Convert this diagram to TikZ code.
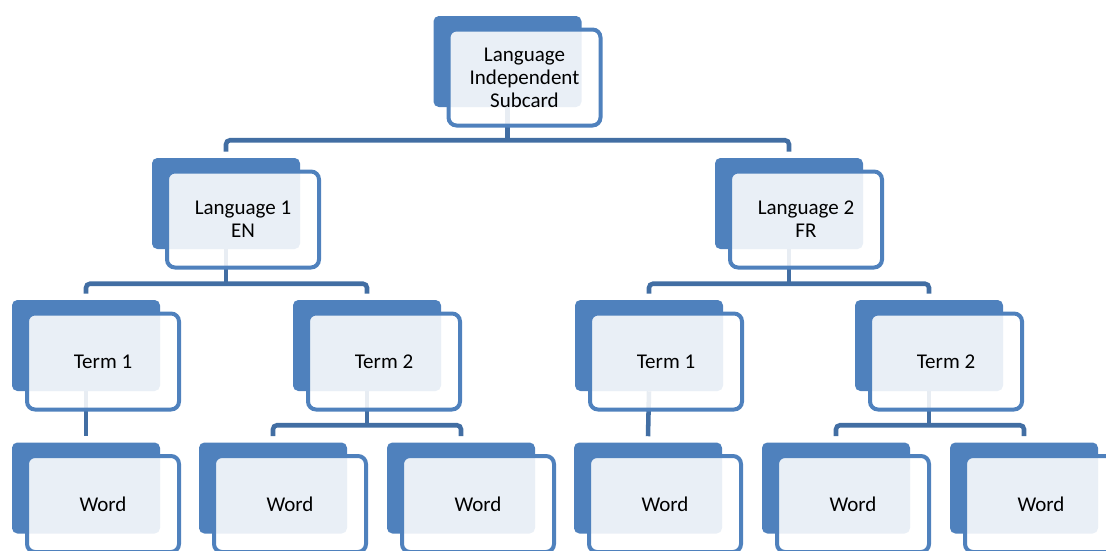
\documentclass[tikz,border=0pt]{standalone}
\usepackage{fontspec}
\setmainfont{Carlito}
\usepackage{tikz}

\definecolor{cardblue}{RGB}{79,129,189}
\definecolor{linkblue}{RGB}{66,110,163}

\begin{document}
\begin{tikzpicture}[x=0.75pt, y=-0.75pt,
  back/.style={fill=cardblue, rounded corners=4pt, minimum width=111pt, minimum height=68.25pt, inner sep=0pt},
  front/.style={draw=cardblue, line width=3pt, fill=white, fill opacity=0.88, text opacity=1, rounded corners=6pt,
    minimum width=114pt, minimum height=72pt, inner sep=0pt, align=center,
    font=\fontsize{15.75pt}{17.25pt}\selectfont},
  link/.style={draw=linkblue, line width=3.4pt, rounded corners=3pt}]
  \useasboundingbox (0,0) rectangle (1106,550);
  \clip (0,0) rectangle (1106,550);
  % back cards
  \node (s) [back] at (507.5, 61.5) {};
  \node (l1) [back] at (226, 203.5) {};
  \node (l2) [back] at (789, 203.5) {};
  \node (t11) [back] at (86, 345.5) {};
  \node (t12) [back] at (367, 345.5) {};
  \node (t21) [back] at (649, 345.5) {};
  \node (t22) [back] at (929, 345.5) {};
  \node (w1) [back] at (86, 488) {};
  \node (w2) [back] at (273, 488) {};
  \node (w3) [back] at (461, 488) {};
  \node (w4) [back] at (648, 488) {};
  \node (w5) [back] at (836, 488) {};
  \node (w6) [back] at (1024, 488) {};
  % connectors
  \draw[link] (s.south) -- ++(0,34);
  \draw[link] ([yshift=4.5pt]l1.north) -- ++(0,-11.5) -| ([yshift=4.5pt]l2.north);
  \draw[link] (l1.south) -- ++(0,34);
  \draw[link] ([yshift=4.5pt]t11.north) -- ++(0,-10) -| ([yshift=4.5pt]t12.north);
  \draw[link] (l2.south) -- ++(0,34);
  \draw[link] ([yshift=4.5pt]t21.north) -- ++(0,-10) -| ([yshift=4.5pt]t22.north);
  \draw[link] (t11.south) -- ([yshift=4.5pt]w1.north);
  \draw[link] (t12.south) -- ++(0,33);
  \draw[link] ([yshift=4.5pt]w2.north) -- ++(0,-11) -| ([yshift=4.5pt]w3.north);
  \draw[link] (t21.south) -- ([yshift=4.5pt]w4.north);
  \draw[link] (t22.south) -- ++(0,33);
  \draw[link] ([yshift=4.5pt]w5.north) -- ++(0,-11) -| ([yshift=4.5pt]w6.north);
  % front cards
  \node (sF) [front] at (524.5, 77.5) {Language\\Independent\\Subcard};
  \node (l1F) [front] at (243, 219.5) {Language 1\\EN};
  \node (l2F) [front] at (806, 219.5) {Language 2\\FR};
  \node (t11F) [front] at (103, 361.5) {Term 1};
  \node (t12F) [front] at (384, 361.5) {Term 2};
  \node (t21F) [front] at (666, 361.5) {Term 1};
  \node (t22F) [front] at (946, 361.5) {Term 2};
  \node (w1F) [front] at (103, 504) {Word};
  \node (w2F) [front] at (290, 504) {Word};
  \node (w3F) [front] at (478, 504) {Word};
  \node (w4F) [front] at (665, 504) {Word};
  \node (w5F) [front] at (853, 504) {Word};
  \node (w6F) [front] at (1041, 504) {Word};
\end{tikzpicture}
\end{document}
